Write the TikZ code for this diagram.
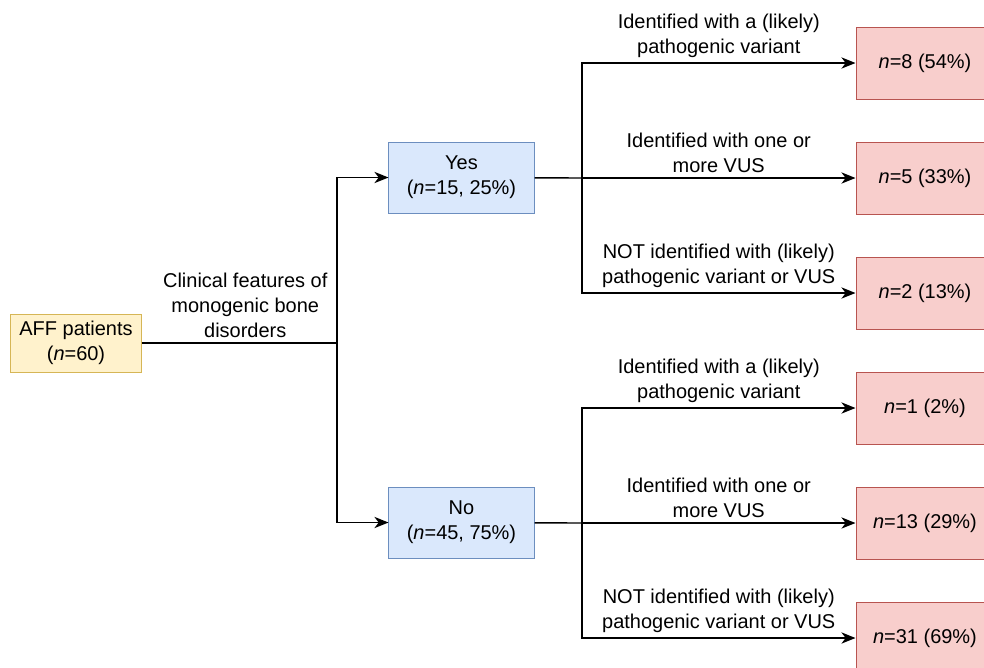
\documentclass[tikz,border=0pt]{standalone}
\usepackage{fontspec}
\setmainfont{Liberation Sans}
\usetikzlibrary{arrows.meta,positioning}

\definecolor{startfill}{HTML}{FFF2CC}
\definecolor{startline}{HTML}{D6B656}
\definecolor{groupfill}{HTML}{DAE8FC}
\definecolor{groupline}{HTML}{6C8EBF}
\definecolor{resultfill}{HTML}{F8CECC}
\definecolor{resultline}{HTML}{B85450}

\begin{document}
\begin{tikzpicture}[x=0.025cm,y=-0.025cm,>={Stealth[length=10pt,width=8pt,inset=3pt]},line width=1pt,
    font=\fontsize{14.2}{17.8}\selectfont,
    box/.style={draw,line width=0.7pt,align=center,inner sep=2pt},
    start node/.style={box,fill=startfill,draw=startline,minimum width=3.25cm,minimum height=1.45cm},
    group node/.style={box,fill=groupfill,draw=groupline,minimum width=3.625cm,minimum height=1.775cm},
    result node/.style={box,fill=resultfill,draw=resultline,minimum width=3.45cm,minimum height=1.8cm},
    branch label/.style={align=center,above,inner sep=3pt}]

    \useasboundingbox (0,0) rectangle (984,667);

    \node[start node] (aff) at (76,343) {AFF patients\\(\textit{n}=60)};
    \node[group node] (yes) at (461.5,177.5) {Yes\\(\textit{n}=15, 25\%)};
    \node[group node] (no) at (461.5,522.5) {No\\(\textit{n}=45, 75\%)};

    \node[result node] (yes1) at (925,63) {\textit{n}=8 (54\%)};
    \node[result node] (yes2) at (925,178) {\textit{n}=5 (33\%)};
    \node[result node] (yes3) at (925,293) {\textit{n}=2 (13\%)};
    \node[result node] (no1) at (925,408) {\textit{n}=1 (2\%)};
    \node[result node] (no2) at (925,523) {\textit{n}=13 (29\%)};
    \node[result node] (no3) at (925,638) {\textit{n}=31 (69\%)};

    \coordinate (split) at (337,343);
    \coordinate (yessplit) at (582,178);
    \coordinate (nosplit) at (582,523);

    % first split
    \draw (aff) -- node[branch label,xshift=0.15cm] (clin) {Clinical features of\\monogenic bone\\disorders} (split);
    \draw[->] (split) |- (yes.west);
    \draw[->] (split) |- (no.west);

    % yes branch
    \draw (yes) -- (yessplit);
    \draw[->] (yessplit) |- node[branch label,pos=0.75] (yeslp) {Identified with a (likely)\\pathogenic variant} (yes1.west);
    \draw[->] (yessplit) -- node[branch label] (yeslv) {Identified with one or\\more VUS} (yes2.west);
    \draw[->] (yessplit) |- node[branch label,pos=0.75] (yeslnot) {NOT identified with (likely)\\pathogenic variant or VUS} (yes3.west);

    % no branch
    \draw (no) -- (nosplit);
    \draw[->] (nosplit) |- node[branch label,pos=0.75] (nolp) {Identified with a (likely)\\pathogenic variant} (no1.west);
    \draw[->] (nosplit) -- node[branch label] (nolv) {Identified with one or\\more VUS} (no2.west);
    \draw[->] (nosplit) |- node[branch label,pos=0.75] (nolnot) {NOT identified with (likely)\\pathogenic variant or VUS} (no3.west);
\end{tikzpicture}
\end{document}
